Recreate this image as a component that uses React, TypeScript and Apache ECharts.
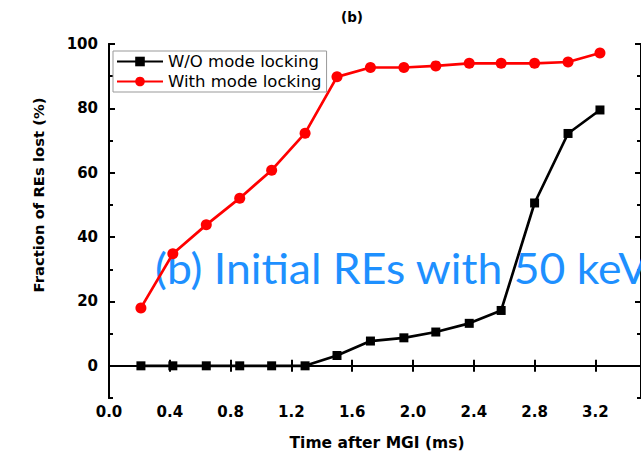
import React, { useEffect, useRef } from "react";
import * as echarts from "echarts";

const times = [0.21, 0.42, 0.64, 0.86, 1.07, 1.29, 1.5, 1.72, 1.94, 2.15, 2.37, 2.58, 2.8, 3.02, 3.23];
const woLocking = [0, 0, 0, 0, 0, 0, 3.2, 7.7, 8.7, 10.5, 13.2, 17.2, 50.6, 72.2, 79.5];
const withLocking = [18, 34.8, 43.8, 52.1, 60.8, 72.3, 89.8, 92.7, 92.7, 93.2, 94.0, 94.0, 94.0, 94.4, 97.2];
const xTicks = [0, 0.4, 0.8, 1.2, 1.6, 2.0, 2.4, 2.8, 3.2];
const yMajor = [0, 20, 40, 60, 80, 100];
const yMinor = [-10, 10, 30, 50, 70, 90];
const seriesNames = ["W/O mode locking", "With mode locking"];

const FONT = "'DejaVu Sans', 'Liberation Sans', Arial, sans-serif";

export default function App() {
  const ref = useRef<HTMLDivElement>(null);
  useEffect(() => {
    const chart = echarts.init(ref.current!, null, { renderer: "svg" });
    const axisLine = { show: true, lineStyle: { color: "#000", width: 2 } };
    const xBase = (pos: string, labels: boolean) => ({
      type: "value",
      position: pos,
      min: 0,
      max: 3.5,
      interval: 0.4,
      axisLine,
      splitLine: { show: false },
      axisTick: { show: true, inside: true, length: 6, customValues: xTicks, lineStyle: { color: "#000", width: 2 } },
      axisLabel: labels
        ? { show: true, customValues: xTicks, formatter: (v: number) => v.toFixed(1), color: "#000", fontFamily: FONT, fontWeight: "bold", fontSize: 15, margin: 6 }
        : { show: false },
    });
    const yBase = (pos: string, ticks: number[], len: number, labels: boolean) => ({
      type: "value",
      position: pos,
      min: -10,
      max: 100,
      interval: 10,
      axisLine,
      splitLine: { show: false },
      axisTick: { show: true, inside: true, length: len, customValues: ticks, lineStyle: { color: "#000", width: 2 } },
      axisLabel: labels
        ? { show: true, customValues: yMajor, color: "#000", fontFamily: FONT, fontWeight: "bold", fontSize: 15, margin: 11 }
        : { show: false },
    });
    chart.setOption({
      animation: false,
      backgroundColor: "#fff",
      grid: { left: 109, top: 44, width: 538, height: 354, containLabel: false },
      xAxis: [xBase("bottom", true), xBase("top", false)],
      yAxis: [
        yBase("left", yMajor, 6, true),
        yBase("left", yMinor, 4, false),
        yBase("right", yMajor, 6, false),
        yBase("right", yMinor, 4, false),
      ],
      legend: {
        show: true,
        data: seriesNames,
        orient: "vertical",
        left: 113,
        top: 51,
        itemWidth: 46,
        itemHeight: 12,
        itemGap: 3,
        padding: [2, 5, 2, 3],
        borderColor: "#999",
        borderWidth: 1,
        backgroundColor: "#fff",
        textStyle: { color: "#000", fontFamily: FONT, fontSize: 16.5 },
        z: 10,
      },
      graphic: [
        {
          type: "text",
          x: 155,
          y: 268,
          z: 1,
          scaleX: 1.06,
          style: { text: "(b) Initial REs with 50 keV", fill: "#1E90FF", font: "42px Lato, 'Open Sans', sans-serif", verticalAlign: "middle", align: "left" },
        },
        {
          type: "text",
          x: 352,
          y: 17,
          style: { text: "(b)", fill: "#000", font: `bold 13.5px ${FONT}`, align: "center", verticalAlign: "middle" },
        },
        {
          type: "text",
          x: 38,
          y: 195,
          rotation: Math.PI / 2,
          style: { text: "Fraction of REs lost (%)", fill: "#000", font: `bold 14.8px ${FONT}`, align: "center", verticalAlign: "middle" },
        },
        {
          type: "text",
          x: 377,
          y: 443,
          style: { text: "Time after MGI (ms)", fill: "#000", font: `bold 15.5px ${FONT}`, align: "center", verticalAlign: "middle" },
        },
      ],
      series: [
        {
          name: seriesNames[0],
          type: "line",
          data: times.map((t, i) => [t, woLocking[i]]),
          symbol: "rect",
          symbolSize: 9,
          itemStyle: { color: "#000" },
          lineStyle: { color: "#000", width: 2.7 },
          z: 3,
        },
        {
          name: seriesNames[1],
          type: "line",
          data: times.map((t, i) => [t, withLocking[i]]),
          symbol: "circle",
          symbolSize: 11,
          itemStyle: { color: "#f00" },
          lineStyle: { color: "#f00", width: 2.7 },
          z: 3,
        },
      ],
    });
    return () => chart.dispose();
  }, []);
  return <div ref={ref} style={{ position: "fixed", left: 0, top: 0, width: 641, height: 454, background: "#fff" }} />;
}
